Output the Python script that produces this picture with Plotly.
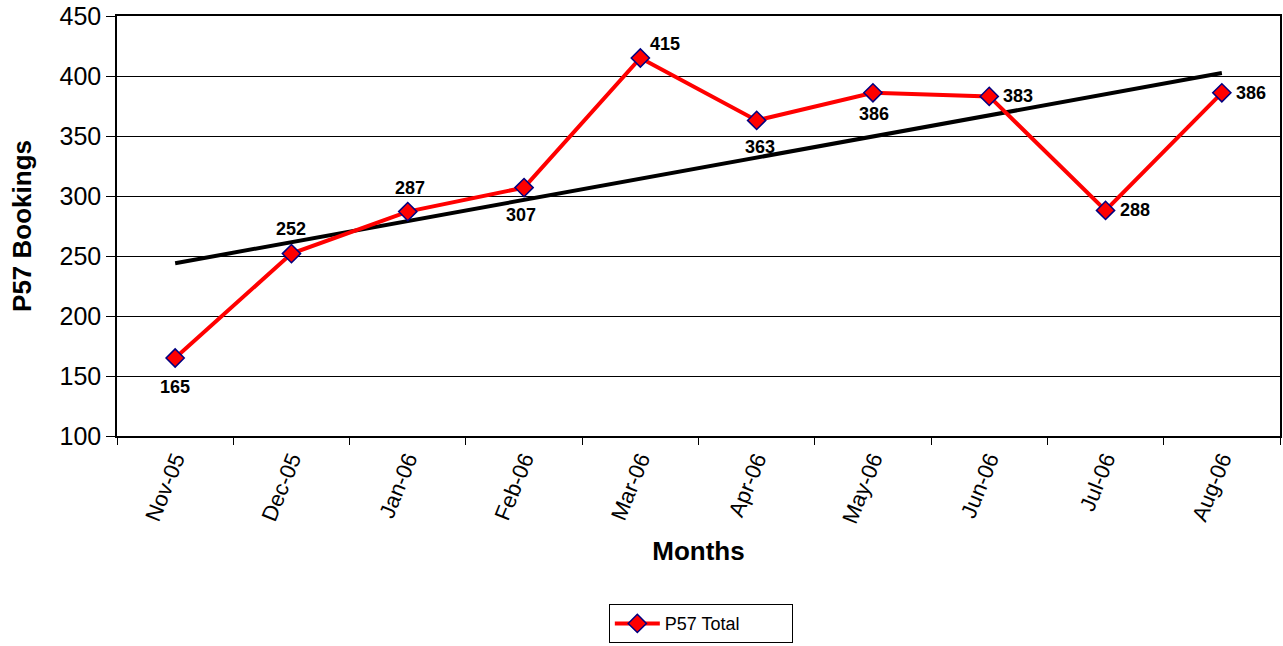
import plotly.graph_objects as go
import numpy as np

months = ["Nov-05", "Dec-05", "Jan-06", "Feb-06", "Mar-06", "Apr-06", "May-06", "Jun-06", "Jul-06", "Aug-06"]
bookings = [165, 252, 287, 307, 415, 363, 386, 383, 288, 386]

# data label offsets in pixels (x, y) relative to each point
label_dx = [0, 0, 2, -3, 25, 3, 1, 29, 29, 29]
label_dy = [-29, 25, 24, -27, 14, -27, -21, 0, 0, 0]

# linear trendline (least squares over category index)
idx = np.arange(len(bookings))
slope, intercept = np.polyfit(idx, bookings, 1)
trend = [intercept + slope * i for i in (idx[0], idx[-1])]

fig = go.Figure()
fig.add_trace(go.Scatter(
    x=[months[0], months[-1]], y=trend, mode="lines",
    line=dict(color="black", width=4), showlegend=False, hoverinfo="skip"))
fig.add_trace(go.Scatter(
    x=months, y=bookings, mode="lines+markers", name="P57 Total",
    line=dict(color="#FF0000", width=4),
    marker=dict(symbol="diamond", size=14, color="#FF0000", line=dict(color="#000080", width=1.5))))

for m, v, dx, dy in zip(months, bookings, label_dx, label_dy):
    fig.add_annotation(x=m, y=v, text=f"<b>{v}</b>", showarrow=False,
                       xshift=dx, yshift=dy, xanchor="center", yanchor="middle",
                       font=dict(family="Arial, Liberation Sans", size=18, color="black"))

fig.update_layout(
    width=1283, height=646,
    margin=dict(l=117, r=3, t=16, b=208),
    paper_bgcolor="white", plot_bgcolor="white",
    font=dict(family="Arial, Liberation Sans", color="black"),
    showlegend=True,
    legend=dict(orientation="h", x=0.502, xanchor="center", y=-0.447, yanchor="middle",
                bordercolor="black", borderwidth=1, font=dict(size=18),
                entrywidth=122, itemwidth=45),
    xaxis=dict(
        type="category", categoryorder="array", categoryarray=months,
        range=[-0.5, 9.5], tickson="boundaries", ticks="outside", ticklen=7,
        tickcolor="black", showline=True, linecolor="black", linewidth=1.5, mirror=True,
        showgrid=False, tickangle=-68, tickfont=dict(size=22),
        title=dict(text="<b>Months</b>", font=dict(size=26), standoff=16), automargin=False),
    yaxis=dict(
        range=[100, 450], dtick=50, ticks="outside", ticklen=9, tickcolor="black",
        showline=True, linecolor="black", linewidth=1.5, mirror=True,
        showgrid=True, gridcolor="black", gridwidth=1, zeroline=False,
        tickfont=dict(size=25),
        title=dict(text="<b>P57 Bookings</b>", font=dict(size=26), standoff=20), automargin=False),
)

fig.write_html("out.html", config={"displayModeBar": False},
               post_script="document.body.style.margin='0';")
